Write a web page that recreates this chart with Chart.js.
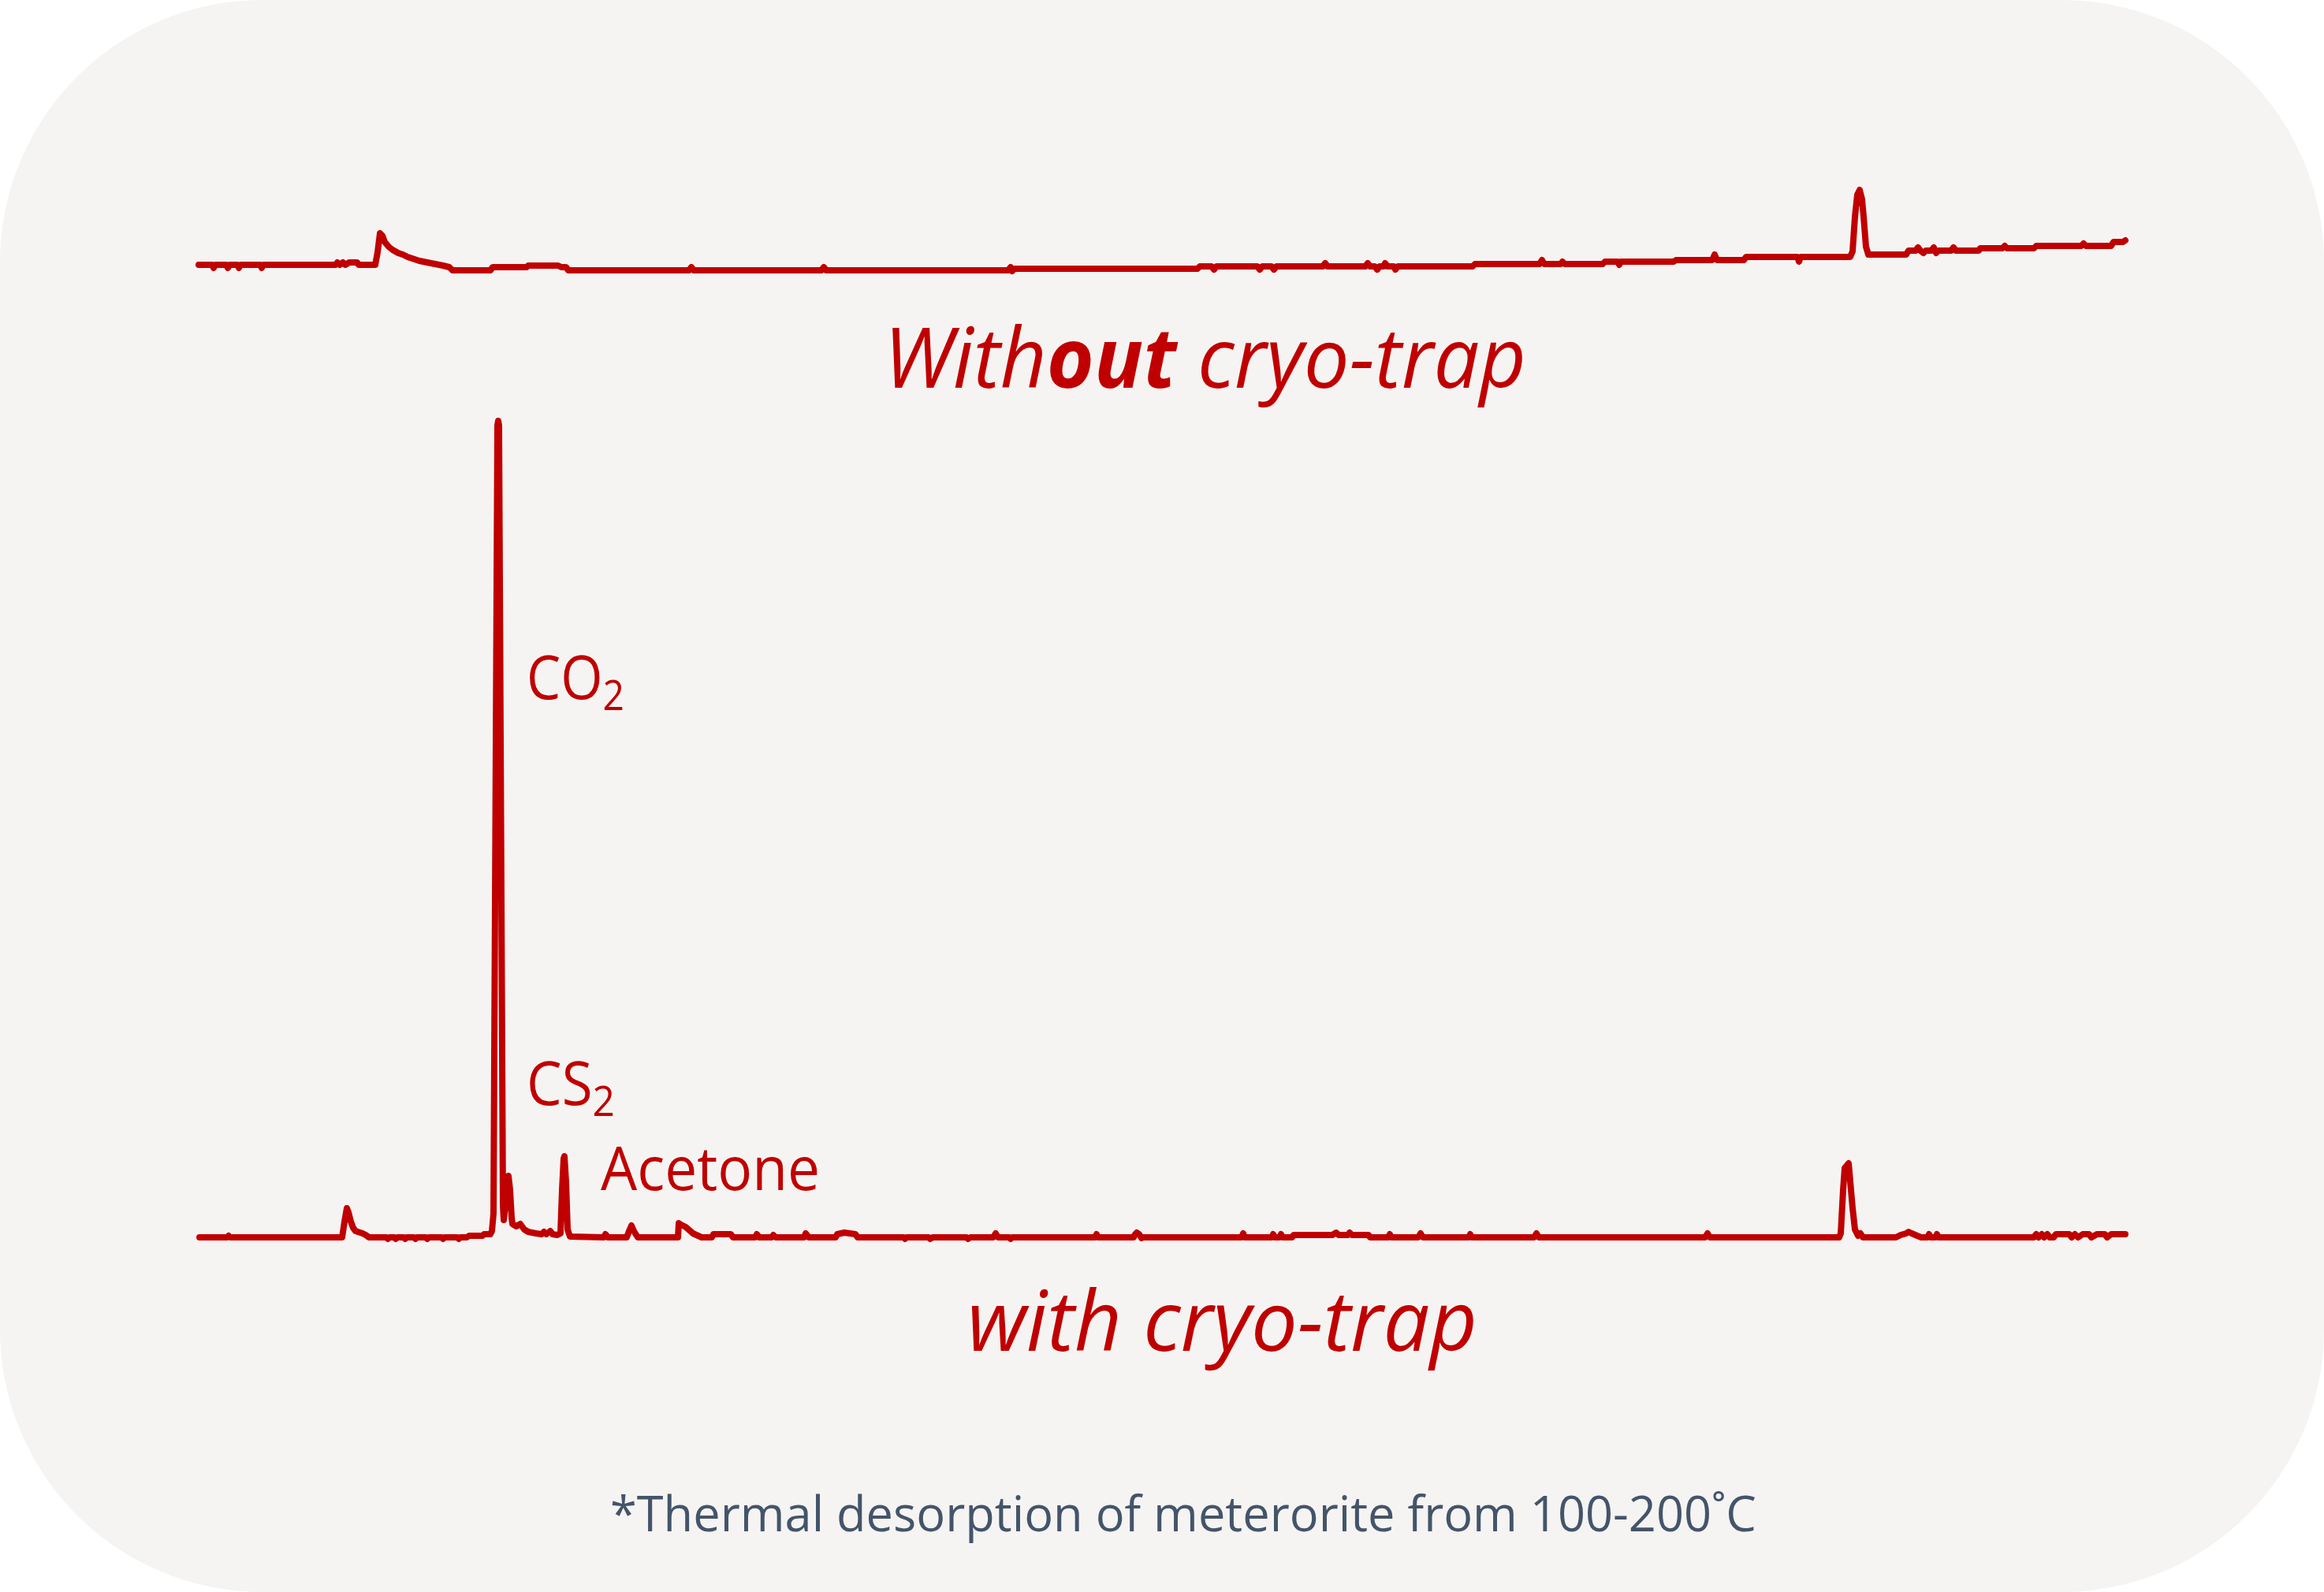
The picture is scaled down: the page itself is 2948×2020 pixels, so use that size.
<!DOCTYPE html>
<html>
<head>
<meta charset="utf-8">
<script src="https://cdn.jsdelivr.net/npm/chart.js@4.4.1/dist/chart.umd.min.js"></script>
<style>
  html, body { margin: 0; padding: 0; background: #ffffff; overflow: hidden; }
  #panel { position: absolute; left: 0; top: 0; width: 2948px; height: 2020px; background: #f5f4f2; border-radius: 333px; }
  #chart { position: absolute; left: 0; top: 0; }
  .txt { position: absolute; white-space: nowrap; font-family: "Open Sans", sans-serif; line-height: 1; transform-origin: 0 0; color: #c00000; }
  .title { font-size: 106px; font-style: italic; }
  .label { font-size: 76px; }
  .sub2 { font-size: 0.7em; position: relative; top: 0.27em; }
  .foot { font-size: 63px; color: #44546a; }
</style>
</head>
<body>
<div id="panel"></div>
<canvas id="chart" width="2948" height="2020"></canvas>

<div class="txt title" data-w="815" style="left:1121px; top:398px;">With<b>out</b> cryo-trap</div>
<div class="txt title" data-w="647" style="left:1227px; top:1620px;">with cryo-trap</div>
<div class="txt label" data-w="124" style="left:668px; top:820px;">CO<span class="sub2">2</span></div>
<div class="txt label" data-w="112" style="left:668px; top:1335px;">CS<span class="sub2">2</span></div>
<div class="txt label" data-w="278" style="left:762px; top:1443px;">Acetone</div>
<div class="txt foot" data-w="1454" style="left:774px; top:1887px;">*Thermal desorption of meterorite from 100-200˚C</div>

<script>
'use strict';
// scan number along the run, detector signal (arbitrary units)
let topScan = [2, 19, 21, 23, 37, 39, 41, 51, 53, 55,
    80, 82, 84, 176, 178, 181, 185, 188, 193, 203,
    205, 226, 229, 232, 235, 238, 243, 248, 255, 261,
    267, 273, 282, 292, 302, 312, 320, 324, 372, 375,
    418, 420, 458, 462, 468, 471, 624, 627, 630, 792,
    795, 798, 1029, 1032, 1034, 1037, 1269, 1272, 1287, 1290,
    1293, 1345, 1348, 1351, 1363, 1366, 1369, 1428, 1431, 1434,
    1482, 1485, 1488, 1494, 1497, 1500, 1505, 1507, 1510, 1518,
    1520, 1523, 1618, 1621, 1703, 1706, 1709, 1730, 1732, 1735,
    1765, 1783, 1786, 1802, 1804, 1806, 1873, 1876, 1922, 1925,
    1928, 1962, 1965, 2030, 2032, 2034, 2097, 2100, 2103, 2106,
    2109, 2112, 2114, 2117, 2120, 2168, 2171, 2180, 2183, 2186,
    2190, 2193, 2200, 2203, 2206, 2209, 2225, 2228, 2231, 2260,
    2262, 2290, 2293, 2296, 2330, 2333, 2390, 2393, 2396, 2428,
    2431, 2443, 2446];
let topSignal = [9, 9, 5, 9, 9, 5, 9, 9, 5, 9,
    9, 5, 9, 9, 12, 9, 12, 9, 12, 12,
    9, 9, 25, 49, 46, 38, 32, 28, 24, 22,
    19, 17, 14, 12, 10, 8, 6, 2, 2, 6,
    6, 8, 8, 6, 6, 2, 2, 6, 2, 2,
    6, 2, 2, 6, 1, 4, 4, 7, 7, 3,
    7, 7, 3, 7, 7, 3, 7, 7, 11, 7,
    7, 11, 7, 7, 3, 7, 7, 11, 7, 7,
    3, 7, 7, 10, 10, 15, 10, 10, 13, 10,
    10, 10, 13, 13, 9, 13, 13, 15, 15, 22,
    15, 15, 19, 19, 13, 19, 19, 26, 70, 98,
    104, 92, 70, 32, 22, 22, 27, 27, 31, 27,
    24, 27, 27, 31, 24, 27, 27, 31, 27, 27,
    30, 30, 33, 30, 30, 33, 33, 36, 33, 33,
    38, 38, 40];

let botScan = [3, 38, 40, 42, 184, 187, 190, 192, 195, 198,
    201, 210, 214, 218, 240, 242, 244, 250, 252, 254,
    262, 264, 266, 275, 277, 279, 290, 292, 294, 310,
    312, 314, 330, 332, 334, 342, 345, 362, 364, 372,
    374, 376, 381, 382, 383, 388, 389, 391, 393, 395,
    397, 399, 400, 405, 410, 415, 420, 430, 437, 440,
    443, 448, 451, 457, 461, 463, 465, 466, 468, 470,
    473, 516, 518, 521, 545, 548, 551, 554, 559, 610,
    611, 614, 620, 629, 640, 653, 655, 677, 680, 708,
    710, 713, 729, 731, 734, 770, 772, 776, 810, 812,
    821, 835, 838, 896, 898, 900, 928, 930, 933, 976,
    978, 981, 1010, 1013, 1016, 1030, 1032, 1034, 1139, 1141,
    1143, 1188, 1190, 1192, 1195, 1198, 1200, 1325, 1327, 1329,
    1363, 1365, 1367, 1373, 1375, 1377, 1389, 1391, 1440, 1445,
    1448, 1460, 1462, 1465, 1486, 1488, 1511, 1513, 1515, 1549,
    1552, 1555, 1613, 1615, 1617, 1696, 1699, 1702, 1913, 1916,
    1919, 2083, 2085, 2088, 2090, 2095, 2098, 2100, 2103, 2107,
    2110, 2113, 2155, 2161, 2168, 2171, 2175, 2182, 2187, 2195,
    2197, 2199, 2205, 2207, 2209, 2330, 2333, 2336, 2340, 2343,
    2347, 2350, 2355, 2358, 2375, 2378, 2382, 2386, 2392, 2400,
    2403, 2410, 2420, 2423, 2428, 2446];
let botSignal = [0, 0, 2, 0, 0, 20, 37, 32, 20, 12,
    8, 5, 3, 0, 0, -2, 0, 0, -2, 0,
    0, -2, 0, 0, -2, 0, 0, -2, 0, 0,
    -2, 0, 0, -2, 0, 0, 2, 2, 4, 4,
    8, 30, 1030, 1036, 1030, 40, 22, 40, 70, 78,
    60, 25, 17, 14, 17, 10, 7, 5, 4, 7,
    4, 8, 4, 3, 5, 60, 100, 103, 70, 10,
    1, 0, 4, 0, 0, 8, 15, 8, 0, 0,
    18, 16, 13, 5, 0, 0, 4, 4, 0, 0,
    4, 0, 0, 3, 0, 0, 5, 0, 0, 4,
    6, 4, 0, 0, -2, 0, 0, -2, 0, 0,
    -2, 0, 0, 5, 0, 0, -2, 0, 0, 4,
    0, 0, 4, 6, 4, -1, 0, 0, 5, 0,
    0, 4, 0, 0, 4, 0, 0, 3, 3, 6,
    3, 3, 6, 3, 3, 0, 0, 4, 0, 0,
    5, 0, 0, 4, 0, 0, 5, 0, 0, 5,
    0, 0, 5, 60, 88, 94, 60, 37, 10, 2,
    5, 0, 0, 3, 5, 7, 5, 2, 0, 0,
    4, 0, 0, 4, 0, 0, 4, 0, 4, 0,
    4, 0, 0, 4, 4, 0, 4, 0, 4, 4,
    0, 4, 4, 0, 4, 4];

let lineColor = '#c00000';

function toPoints(xs, ys) {
    let pts = [];
    for (let i = 0; i < xs.length; i++) {
        pts.push({ x: xs[i], y: ys[i] });
    }
    return pts;
}

let ctx = document.getElementById('chart').getContext('2d');
let myChart = new Chart(ctx, {
    type: 'line',
    data: {
        datasets: [{
            label: 'Without cryo-trap',
            data: toPoints(topScan, topSignal),
            yAxisID: 'yTop',
            borderColor: lineColor,
            clip: false
        }, {
            label: 'with cryo-trap',
            data: toPoints(botScan, botSignal),
            yAxisID: 'yBot',
            borderColor: lineColor,
            clip: false
        }]
    },
    options: {
        responsive: false,
        animation: false,
        devicePixelRatio: 1,
        layout: { padding: { left: 250, right: 250, top: 0, bottom: 0 } },
        elements: {
            point: { radius: 0 },
            line: { borderWidth: 8, tension: 0, borderJoinStyle: 'round', borderCapStyle: 'round' }
        },
        plugins: { legend: { display: false }, tooltip: { enabled: false } },
        scales: {
            x: { type: 'linear', min: 0, max: 2448, display: false },
            yTop: { type: 'linear', min: -1675, max: 345, display: false },
            yBot: { type: 'linear', min: -450, max: 1570, display: false }
        }
    }
});

// squeeze each text to the width it has in the picture
function fitTexts() {
    let els = document.querySelectorAll('.txt');
    for (let i = 0; i < els.length; i++) {
        els[i].style.transform = 'none';
        let w = els[i].getBoundingClientRect().width;
        let target = parseFloat(els[i].dataset.w);
        els[i].style.transform = 'scaleX(' + (target / w) + ')';
    }
}
fitTexts();
document.fonts.ready.then(fitTexts);
</script>
</body>
</html>
